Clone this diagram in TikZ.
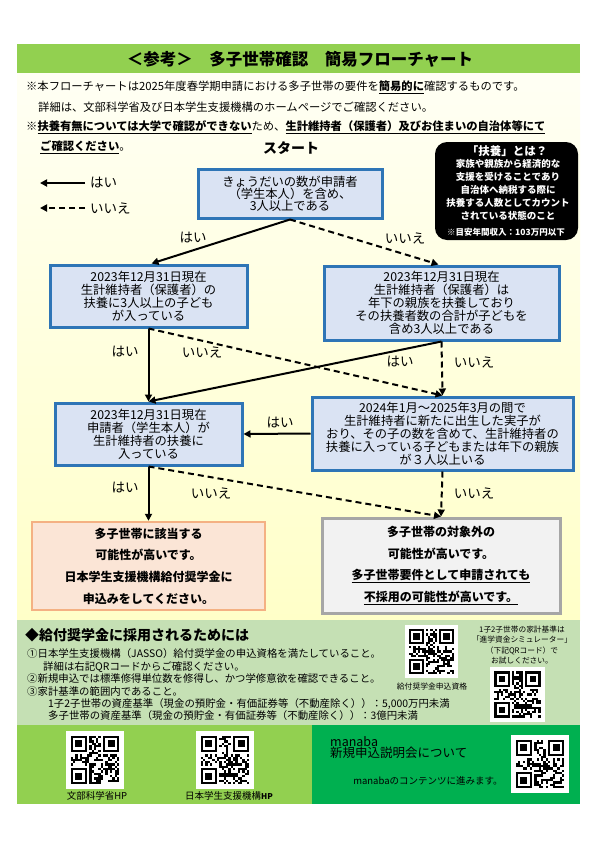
\documentclass[tikz,border=0pt]{standalone}
\usepackage{fontspec}
\setmainfont{Noto Sans CJK JP}
\usetikzlibrary{arrows.meta,calc}
\definecolor{hdrgreen}{HTML}{92D050}
\definecolor{creamtop}{HTML}{FFFFF4}
\definecolor{creambot}{HTML}{FFFFC8}
\definecolor{boxfill}{HTML}{DAE3F3}
\definecolor{boxblue}{HTML}{2E75B6}
\definecolor{pinkfill}{HTML}{FBE5D6}
\definecolor{salmon}{HTML}{F4B183}
\definecolor{grayfill}{HTML}{F2F2F2}
\definecolor{grayline}{HTML}{A6A6A6}
\definecolor{infogreen}{HTML}{C5E0B4}
\definecolor{darkgreen}{HTML}{00B050}
\newcommand\fsz[2]{\fontsize{#1}{#2}\selectfont}
\newcommand\qrcode[4]{%
  \fill[white] (#1,#2) rectangle ++(#3,#3);
  \pgfmathsetmacro\qm{#3/25}%
  \foreach \i in {0,...,20}{%
    \foreach \j in {0,...,20}{%
      \pgfmathtruncatemacro\qv{mod(abs(int(sin(\i*127.1+\j*311.7+#4*74.7)*9973)),2)}%
      \ifnum\qv=1\relax
        \fill[black] (#1+2*\qm+\i*\qm,#2+2*\qm+\j*\qm) rectangle ++(\qm,\qm);%
      \fi
    }}%
  \foreach \fx/\fy in {0/0,14/0,0/14}{%
    \fill[white] (#1+\qm+\fx*\qm,#2+\qm+\fy*\qm) rectangle ++(9*\qm,9*\qm);
    \fill[black] (#1+2*\qm+\fx*\qm,#2+2*\qm+\fy*\qm) rectangle ++(7*\qm,7*\qm);
    \fill[white] (#1+3*\qm+\fx*\qm,#2+3*\qm+\fy*\qm) rectangle ++(5*\qm,5*\qm);
    \fill[black] (#1+4*\qm+\fx*\qm,#2+4*\qm+\fy*\qm) rectangle ++(3*\qm,3*\qm);
  }%
}
\begin{document}
\begin{tikzpicture}[x=1pt,y=-1pt,
  flowbox/.style={draw=boxblue, line width=3pt, fill=boxfill, inner sep=0pt,
    align=center, font=\fsz{12.3}{13}},
  yesline/.style={line width=2pt, -{Triangle[length=7pt,width=7pt]}},
  noline/.style={line width=2pt, dash pattern=on 6pt off 4pt, -{Triangle[length=7pt,width=7pt]}},
  lbl/.style={font=\fsz{13.5}{14}, inner sep=0pt},
  note/.style={anchor=west, inner sep=0pt, font=\fsz{11.3}{12}},
  info/.style={anchor=west, inner sep=0pt, font=\fsz{10.4}{12}},
  fin/.style={draw=none, inner sep=0pt, align=center, text=white, font=\bfseries\fsz{9.5}{13}}
]
\useasboundingbox (0,0) rectangle (597,841);
\fill[white] (0,0) rectangle (597,841);
% backgrounds
\shade[top color=creamtop, bottom color=creambot] (17,73) rectangle (580,620);
\fill[hdrgreen] (17,44) rectangle (580,73);
\fill[infogreen] (17,620) rectangle (580,725);
\fill[hdrgreen] (17,725) rectangle (312,804);
\fill[darkgreen] (312,725) rectangle (580,804);

% header
\node[inner sep=0pt, font=\bfseries\fsz{16.5}{17}] (title) at (300,59) {＜参考＞　多子世帯確認　簡易フローチャート};
\node[note] (n1) at (26,87) {※本フローチャートは2025年度春学期申請における多子世帯の要件を\textbf{\underline{簡易的に}}確認するものです。};
\node[note] (n2) at (38,107) {詳細は、文部科学省及び日本学生支援機構のホームページでご確認ください。};
\node[note] (n3) at (26,127) {※\textbf{\underline{扶養有無については大学で確認ができない}}ため、\textbf{\underline{生計維持者（保護者）及びお住まいの自治体等にて}}};
\node[note] (n4) at (40,147) {\textbf{\underline{ご確認ください}}。};
\node[inner sep=0pt, font=\bfseries\fsz{14}{14}] (startlbl) at (291,148) {スタート};

% legend
\coordinate (lg1s) at (85,183); \coordinate (lg1e) at (40,183);
\coordinate (lg2s) at (85,208); \coordinate (lg2e) at (40,208);
\draw[yesline] (lg1s) -- (lg1e);
\draw[noline] (lg2s) -- (lg2e);
\node[lbl, anchor=west] (lgyes) at (90,183) {はい};
\node[lbl, anchor=west] (lgno) at (90,208) {いいえ};

% fuyou box
\node[fill=black, rounded corners=12pt, minimum width=143pt, minimum height=98pt, inner sep=0pt] (fuyou) at (506.5,191) {};
\node[fin, font=\bfseries\fsz{11.5}{12}] (fuyoutitle) at (507,151) {「扶養」とは？};
\node[fin] (fuyoubody) at (508,189.5) {家族や親族から経済的な\\支援を受けることであり\\自治体へ納税する際に\\扶養する人数としてカウント\\されている状態のこと};
\node[fin, font=\bfseries\fsz{8.5}{9}] (fuyounote) at (506,232) {※目安年間収入：103万円以下};

% flow boxes
\node[flowbox, font=\fsz{12.3}{12}, minimum width=184pt, minimum height=49pt] (start) at (290,193.5)
  {きょうだいの数が申請者\\（学生本人）を含め、\\3人以上である};
\node[flowbox, minimum width=197pt, minimum height=62pt] (A) at (148.5,296)
  {2023年12月31日現在\\生計維持者（保護者）の\\扶養に3人以上の子ども\\が入っている};
\node[flowbox, minimum width=235pt, minimum height=74pt] (B) at (441.5,303)
  {2023年12月31日現在\\生計維持者（保護者）は\\年下の親族を扶養しており\\その扶養者数の合計が子どもを\\含め3人以上である};
\node[flowbox, minimum width=187pt, minimum height=62pt] (C) at (148.5,434)
  {2023年12月31日現在\\申請者（学生本人）が\\生計維持者の扶養に\\入っている};
\node[flowbox, minimum width=261pt, minimum height=73pt] (D) at (442.5,433.5)
  {2024年1月～2025年3月の間で\\生計維持者に新たに出生した実子が\\おり、その子の数を含めて、生計維持者の\\扶養に入っている子どもまたは年下の親族\\が３人以上いる};
\node[draw=salmon, line width=2.5pt, fill=pinkfill, inner sep=0pt, align=center,
  font=\bfseries\fsz{12}{21.7}, minimum width=233pt, minimum height=88pt] (E) at (148.5,566)
  {多子世帯に該当する\\可能性が高いです。\\日本学生支援機構給付奨学金に\\申込みをしてください。};
\node[draw=grayline, line width=3pt, fill=grayfill, inner sep=0pt, align=center,
  font=\bfseries\fsz{12}{21.7}, minimum width=238pt, minimum height=95pt] (F) at (441,565.5)
  {多子世帯の対象外の\\可能性が高いです。\\\underline{多子世帯要件として申請されても}\\\underline{不採用の可能性が高いです。}};

% connectors
\draw[yesline] (start.south) -- ([xshift=3pt]A.north);
\draw[noline] (start.south) -- ([xshift=-3pt]B.north);
\draw[noline] (A.south) -- (D.north);
\draw[yesline] (A.south) -- (C.north);
\draw[yesline] (B.south) -- (C.north);
\draw[noline] (B.south) -- (D.north);
\draw[yesline] (D.west) -- (C.east);
\draw[yesline] (C.south) -- (E.north);
\draw[noline] (C.south) -- (F.north);
\draw[noline] (D.south) -- (F.north);

% labels
\node[lbl] (y1) at (193,238) {はい};
\node[lbl] (n1l) at (405,238) {いいえ};
\node[lbl] (y2) at (125,352) {はい};
\node[lbl] (n2l) at (202,352) {いいえ};
\node[lbl] (y3) at (400,362) {はい};
\node[lbl] (n3l) at (474,362) {いいえ};
\node[lbl] (y4) at (280,423) {はい};
\node[lbl] (y5) at (125,488) {はい};
\node[lbl] (n4l) at (211,493) {いいえ};
\node[lbl] (n5l) at (474,493) {いいえ};

% info section
\node[anchor=west, inner sep=0pt, font=\bfseries\fsz{14}{14}] (ihead) at (25,635) {◆給付奨学金に採用されるためには};
\node[info] (i1) at (27,654) {①日本学生支援機構（JASSO）給付奨学金の申込資格を満たしていること。};
\node[info] (i2) at (43,667) {詳細は右記QRコードからご確認ください。};
\node[info] (i3) at (27,679) {②新規申込では標準修得単位数を修得し、かつ学修意欲を確認できること。};
\node[info] (i4) at (27,692) {③家計基準の範囲内であること。};
\node[info] (i5) at (48,704) {1子2子世帯の資産基準（現金の預貯金・有価証券等（不動産除く））：5,000万円未満};
\node[info] (i6) at (48,716) {多子世帯の資産基準（現金の預貯金・有価証券等（不動産除く））：3億円未満};
\qrcode{405}{625}{53}{3}
\node[inner sep=0pt, font=\fsz{7.8}{8}] (qr1cap) at (432,687) {給付奨学金申込資格};
\node[inner sep=0pt, align=center, font=\fsz{7.7}{10.3}] (simtext) at (522,645)
  {1子2子世帯の家計基準は\\「進学資金シミュレーター」\\（下記QRコード）で\\お試しください。};
\qrcode{490}{667}{55}{5}

% bottom bar
\qrcode{66}{731}{58}{7}
\qrcode{196}{731}{58}{11}
\qrcode{511}{735}{58}{13}
\node[inner sep=0pt, font=\fsz{9.5}{10}] (mextcap) at (97,796) {文部科学省HP};
\node[inner sep=0pt, font=\fsz{9.5}{10}] (jassocap) at (229,796) {日本学生支援機構{\bfseries\fsz{8}{8}HP}};
\node[anchor=north west, inner sep=0pt, align=left, font=\fsz{12.5}{11.5}] (manaba) at (330,736) {manaba\\新規申込説明会について};
\node[inner sep=0pt, font=\fsz{9.5}{10}] (manabasub) at (428,781) {manabaのコンテンツに進みます。};
\end{tikzpicture}
\end{document}
